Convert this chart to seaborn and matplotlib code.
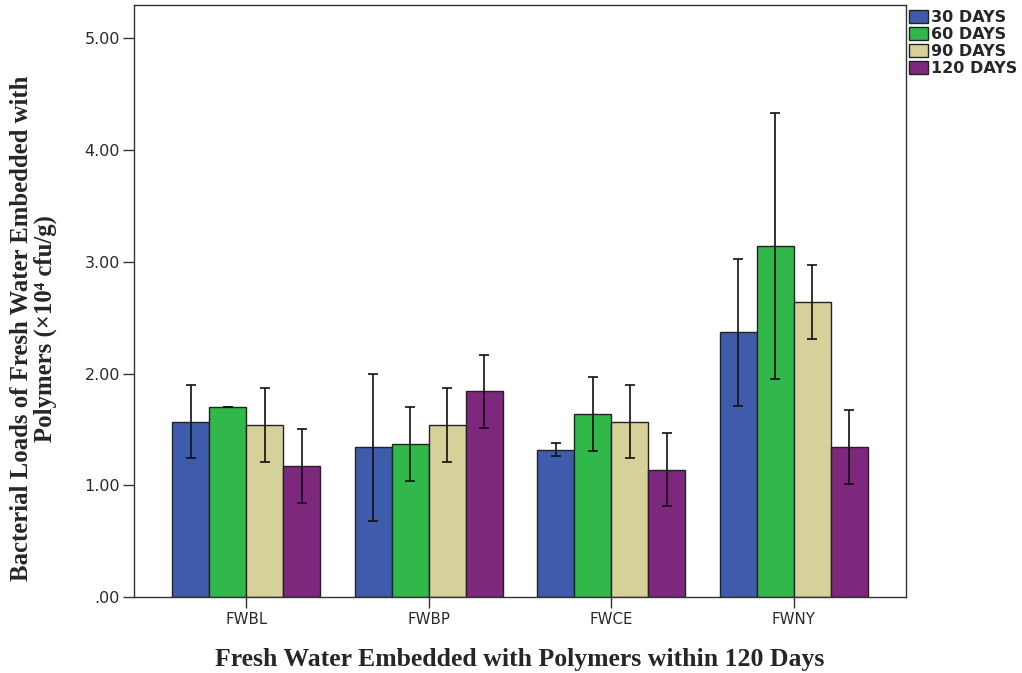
import matplotlib
matplotlib.use('Agg')
import matplotlib.pyplot as plt
import seaborn as sns
import pandas as pd

# data
groups = ["FWBL", "FWBP", "FWCE", "FWNY"]
days = ["30 DAYS", "60 DAYS", "90 DAYS", "120 DAYS"]
d30 = [1.57, 1.34, 1.32, 2.37]
d60 = [1.70, 1.37, 1.64, 3.14]
d90 = [1.54, 1.54, 1.57, 2.64]
d120 = [1.17, 1.84, 1.14, 1.34]
e30 = [0.33, 0.66, 0.06, 0.66]
e60 = [0.00, 0.33, 0.33, 1.19]
e90 = [0.33, 0.33, 0.33, 0.33]
e120 = [0.33, 0.33, 0.33, 0.33]
yticks = [0, 1, 2, 3, 4, 5]
ytick_labels = [".00", "1.00", "2.00", "3.00", "4.00", "5.00"]

colors = ["#3E5BAC", "#30B94A", "#D6D09B", "#7D287D"]

rows = []
for day, vals in zip(days, [d30, d60, d90, d120]):
    for g, v in zip(groups, vals):
        rows.append({"group": g, "days": day, "value": v})
df = pd.DataFrame(rows)

sns.set_style("ticks")
plt.rcParams['font.family'] = ['DejaVu Sans']

fig = plt.figure(figsize=(10.22, 6.73), dpi=100)
ax = fig.add_axes([0.131, 0.113, 0.7555, 0.8796])

sns.barplot(data=df, x="group", y="value", hue="days", order=groups,
            hue_order=days, palette=colors, saturation=1, errorbar=None,
            width=0.81, edgecolor="#222222", linewidth=1.0, ax=ax)

# error bars on the bars seaborn drew
for cont, errs in zip(ax.containers, [e30, e60, e90, e120]):
    xs = [p.get_x() + p.get_width() / 2 for p in cont]
    ys = [p.get_height() for p in cont]
    ax.errorbar(xs, ys, yerr=errs, fmt="none", ecolor="#111111",
                elinewidth=1.2, capsize=3.5, capthick=1.2, zorder=5)

ax.set_xlim(-0.616, 3.616)
ax.set_ylim(0, 5.3)
ax.set_yticks(yticks)
ax.set_yticklabels(ytick_labels)
ax.tick_params(axis="both", direction="out", length=8, width=1,
               color="#333333", labelcolor="#2a2a2a")
ax.tick_params(axis="y", labelsize=11.5, pad=2)
ax.tick_params(axis="x", labelsize=10.8, pad=3)
for s in ax.spines.values():
    s.set_visible(True)
    s.set_color("#333333")
    s.set_linewidth(1.0)

serif = ['Liberation Serif', 'DejaVu Serif']
ax.set_xlabel("Fresh Water Embedded with Polymers within 120 Days",
              family=serif, fontweight="bold", fontsize=18.5, labelpad=15)
ax.set_ylabel("Bacterial Loads of Fresh Water Embedded with\nPolymers (×10⁴ cfu/g)",
              family=serif, fontweight="bold", fontsize=17.8,
              linespacing=1.05)
ax.yaxis.set_label_coords(-0.0997, 0.4535)

handles, labels = ax.get_legend_handles_labels()
ax.get_legend().remove()
fig.legend(handles, labels, loc="upper left",
           bbox_to_anchor=(909 / 1022, 1 - 10 / 673), frameon=False,
           handlelength=1.2, handleheight=0.9, handletextpad=0.15,
           labelspacing=0.12, borderaxespad=0, borderpad=0,
           prop={"weight": "bold", "size": 11.5})

fig.savefig("out.png", dpi=100)
